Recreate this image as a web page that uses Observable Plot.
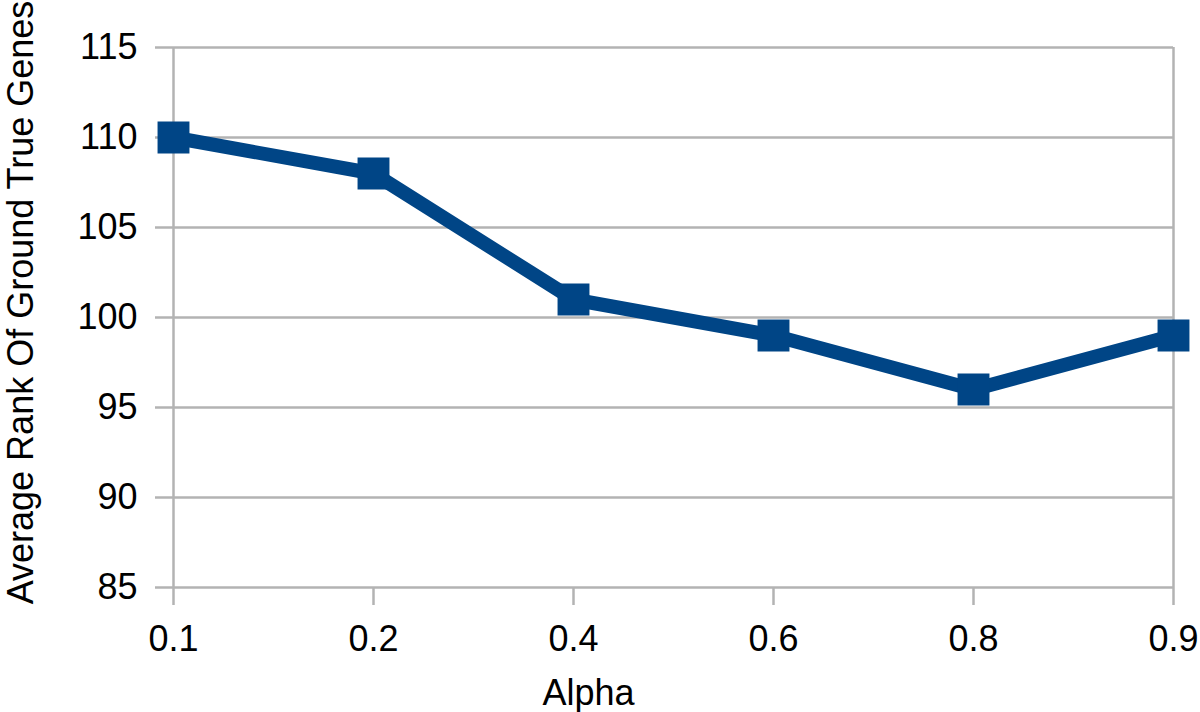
<!DOCTYPE html>
<html>
<head>
<meta charset="utf-8">
<script src="https://cdn.jsdelivr.net/npm/d3@7"></script>
<script src="https://cdn.jsdelivr.net/npm/@observablehq/plot@0.6"></script>
<style>
  html, body { margin: 0; padding: 0; background: #fff; overflow: hidden; }
  #chart svg { display: block; font-family: "Liberation Sans", Arial, sans-serif; }
</style>
</head>
<body>
<div id="chart"></div>
<script>
const alphas = ["0.1", "0.2", "0.4", "0.6", "0.8", "0.9"];
const avgRank = [110, 108, 101, 99, 96, 99];
const yTicks = [85, 90, 95, 100, 105, 110, 115];
const xTitle = "Alpha";
const yTitle = "Average Rank Of Ground True Genes";

const data = alphas.map((a, i) => ({alpha: a, rank: avgRank[i]}));
const lineColor = "#004586";
const gridColor = "#b3b3b3";

const chart = Plot.plot({
  width: 1200,
  height: 712,
  marginLeft: 173,
  marginRight: 27,
  marginTop: 47,
  marginBottom: 125,
  style: {fontFamily: "'Liberation Sans', Arial, sans-serif", background: "#fff", color: "#000"},
  x: {type: "point", domain: alphas, padding: 0},
  y: {domain: [85, 115]},
  marks: [
    Plot.gridY(yTicks, {stroke: gridColor, strokeOpacity: 1, strokeWidth: 2.5}),
    Plot.ruleX([alphas[0], alphas[alphas.length - 1]], {stroke: gridColor, strokeWidth: 2.5}),
    Plot.axisY(yTicks, {
      tickSize: 18, tickPadding: 18, stroke: gridColor, strokeOpacity: 1, strokeWidth: 2.5,
      fontSize: 36, fill: "#000", label: null
    }),
    Plot.axisX(alphas, {
      tickSize: 18, tickPadding: 20, stroke: gridColor, strokeOpacity: 1, strokeWidth: 2.5,
      fontSize: 36, fill: "#000", label: null
    }),
    Plot.text([yTitle], {
      frameAnchor: "left", rotate: -90, dx: -152, dy: -15,
      fontSize: 36, fill: "#000", textAnchor: "middle", lineAnchor: "middle"
    }),
    Plot.text([xTitle], {
      frameAnchor: "bottom", dx: -85, dy: 117,
      fontSize: 36, fill: "#000", textAnchor: "middle", lineAnchor: "bottom"
    }),
    Plot.line(data, {x: "alpha", y: "rank", stroke: lineColor, strokeWidth: 14, strokeLinejoin: "miter"}),
    Plot.dot(data, {x: "alpha", y: "rank", symbol: "square", r: 18, fill: lineColor, stroke: "none"})
  ]
});
document.getElementById("chart").appendChild(chart);
</script>
</body>
</html>
